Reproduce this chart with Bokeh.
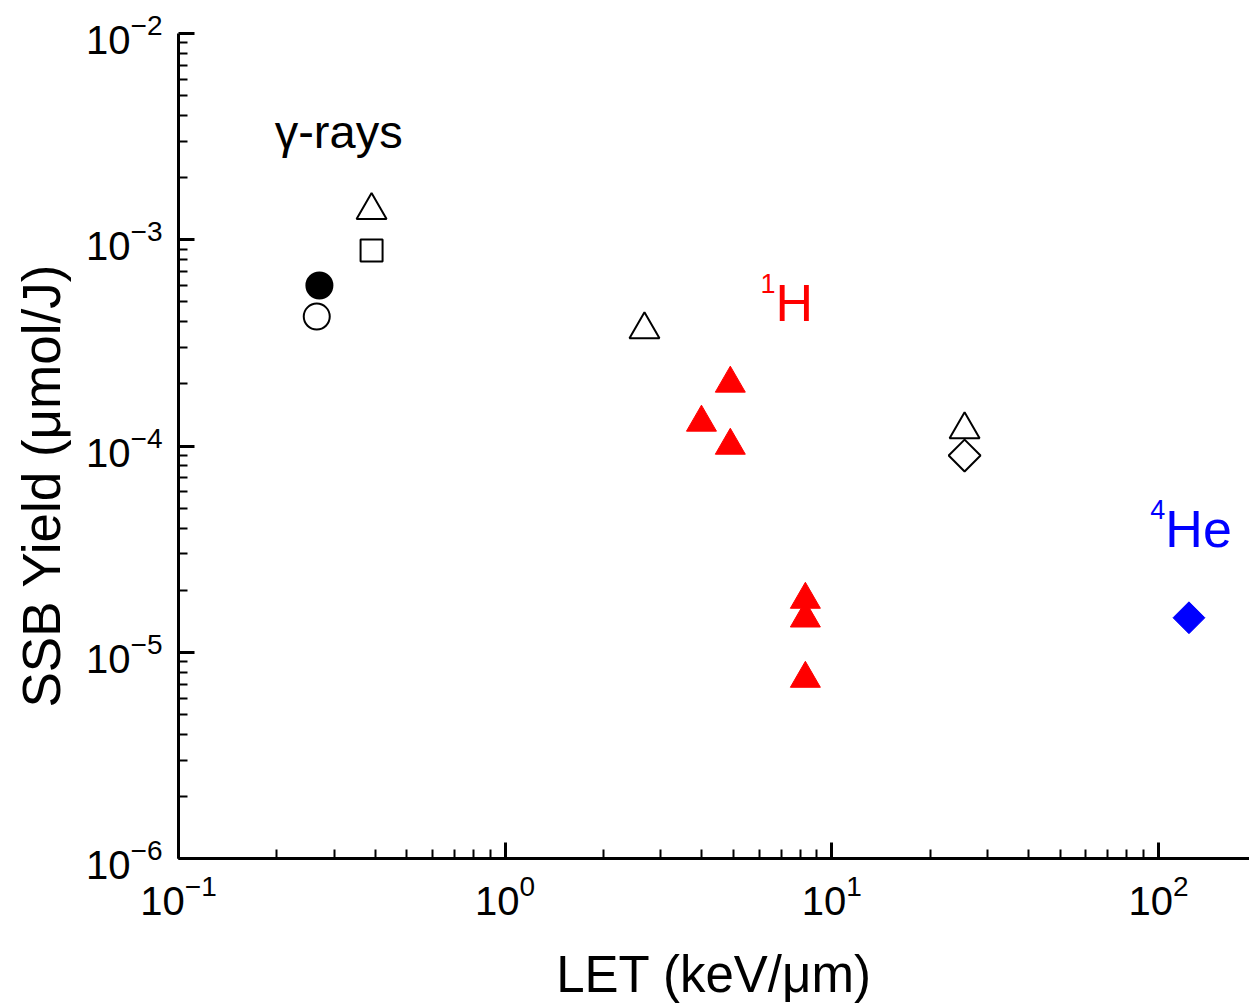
import numpy as np
from bokeh.plotting import figure
from bokeh.models import Range1d, Label, FixedTicker, LogTickFormatter, Title
from bokeh.embed import file_html
from bokeh.resources import INLINE

FONT = "Liberation Sans"

# ---- data (LET in keV/um, SSB yield in umol/J) ----
gamma_filled_circle_let = [0.270]
gamma_filled_circle_yield = [6.0e-4]
gamma_open_circle_let = [0.265]
gamma_open_circle_yield = [4.24e-4]
open_triangle_let = [0.390, 2.67, 25.5]
open_triangle_yield = [1.39e-3, 3.67e-4, 1.20e-4]
open_square_let = [0.390]
open_square_yield = [8.87e-4]
open_diamond_let = [25.5]
open_diamond_yield = [8.99e-5]
proton_let = [4.89, 3.99, 4.89, 8.30, 8.30, 8.30]
proton_yield = [2.01e-4, 1.30e-4, 1.005e-4, 1.80e-5, 1.46e-5, 7.45e-6]
helium_let = [124.0]
helium_yield = [1.47e-5]

x_major_ticks = [0.1, 1, 10, 100]
y_major_ticks = [1e-6, 1e-5, 1e-4, 1e-3, 1e-2]

x_minor_ticks = [m * d for d in [0.1, 1, 10, 100] for m in range(2, 10)]
y_minor_ticks = [m * d for d in [1e-6, 1e-5, 1e-4, 1e-3] for m in range(2, 10)]

p = figure(width=1249, height=1005, x_axis_type="log", y_axis_type="log",
           x_range=Range1d(0.1, 190), y_range=Range1d(1e-6, 1e-2),
           output_backend="svg", toolbar_location=None,
           min_border_left=177, min_border_right=0,
           min_border_top=33, min_border_bottom=147)

p.grid.visible = False
p.outline_line_color = None
p.background_fill_color = "white"

p.xaxis.ticker = FixedTicker(ticks=x_major_ticks, minor_ticks=x_minor_ticks)
p.yaxis.ticker = FixedTicker(ticks=y_major_ticks, minor_ticks=y_minor_ticks)
p.xaxis.formatter = LogTickFormatter()
p.yaxis.formatter = LogTickFormatter()

for ax in (p.xaxis[0], p.yaxis[0]):
    ax.axis_line_width = 3
    ax.axis_line_color = "black"
    ax.major_tick_in = 16
    ax.major_tick_out = 0
    ax.minor_tick_in = 9
    ax.minor_tick_out = 0
    ax.major_tick_line_width = 3
    ax.minor_tick_line_width = 2
    ax.major_tick_line_color = "black"
    ax.minor_tick_line_color = "black"
    ax.major_label_text_font = FONT
    ax.major_label_text_font_size = "40px"
    ax.major_label_text_color = "black"

p.xaxis.major_label_standoff = 15
p.yaxis.major_label_standoff = 16

p.xaxis.axis_label = "LET (keV/μm)"
p.xaxis.axis_label_text_font = FONT
p.xaxis.axis_label_text_font_size = "51px"
p.xaxis.axis_label_text_font_style = "normal"
p.xaxis.axis_label_text_color = "black"
p.xaxis.axis_label_standoff = 28

# y-axis title (placed along the axis like the reference)
p.add_layout(Title(text="SSB Yield (μmol/J)", align="left", offset=151, vertical_align="top",
                   text_font=FONT, text_font_size="53px", text_font_style="normal",
                   text_color="black", standoff=22), "left")

# ---- markers ----
p.scatter(gamma_filled_circle_let, gamma_filled_circle_yield, marker="circle", size=26,
          fill_color="black", line_color="black", line_width=2)
p.scatter(gamma_open_circle_let, gamma_open_circle_yield, marker="circle", size=26,
          fill_color="white", line_color="black", line_width=2)
p.scatter(open_square_let, open_square_yield, marker="square", size=22,
          fill_color="white", line_color="black", line_width=2)
p.scatter(open_diamond_let, open_diamond_yield, marker="square", size=22.5, angle=np.pi / 4,
          fill_color="white", line_color="black", line_width=2)
p.scatter(open_triangle_let, open_triangle_yield, marker="triangle", size=30,
          fill_color="white", line_color="black", line_width=2)
p.scatter(proton_let, proton_yield, marker="triangle", size=30,
          fill_color="#FF0000", line_color="#FF0000", line_width=1)
p.scatter(helium_let, helium_yield, marker="square", size=22.5, angle=np.pi / 4,
          fill_color="#0000FF", line_color="#0000FF", line_width=1)

# ---- annotations ----
p.add_layout(Label(x=0.197, y=3.36e-3, text="γ-rays", text_font=FONT, text_font_size="47px",
                   text_color="black", text_align="left", text_baseline="alphabetic"))
p.add_layout(Label(x=6.72, y=4.91e-4, text="H", text_font=FONT, text_font_size="52px",
                   text_color="#FF0000", text_align="left", text_baseline="alphabetic"))
p.add_layout(Label(x=6.72, y=6.13e-4, text="1", text_font=FONT, text_font_size="27px",
                   text_color="#FF0000", text_align="right", text_baseline="alphabetic"))
p.add_layout(Label(x=105.0, y=3.98e-5, text="He", text_font=FONT, text_font_size="52px",
                   text_color="#0000FF", text_align="left", text_baseline="alphabetic"))
p.add_layout(Label(x=105.0, y=4.92e-5, text="4", text_font=FONT, text_font_size="27px",
                   text_color="#0000FF", text_align="right", text_baseline="alphabetic"))

open("out.html", "w").write(file_html(p, INLINE))
